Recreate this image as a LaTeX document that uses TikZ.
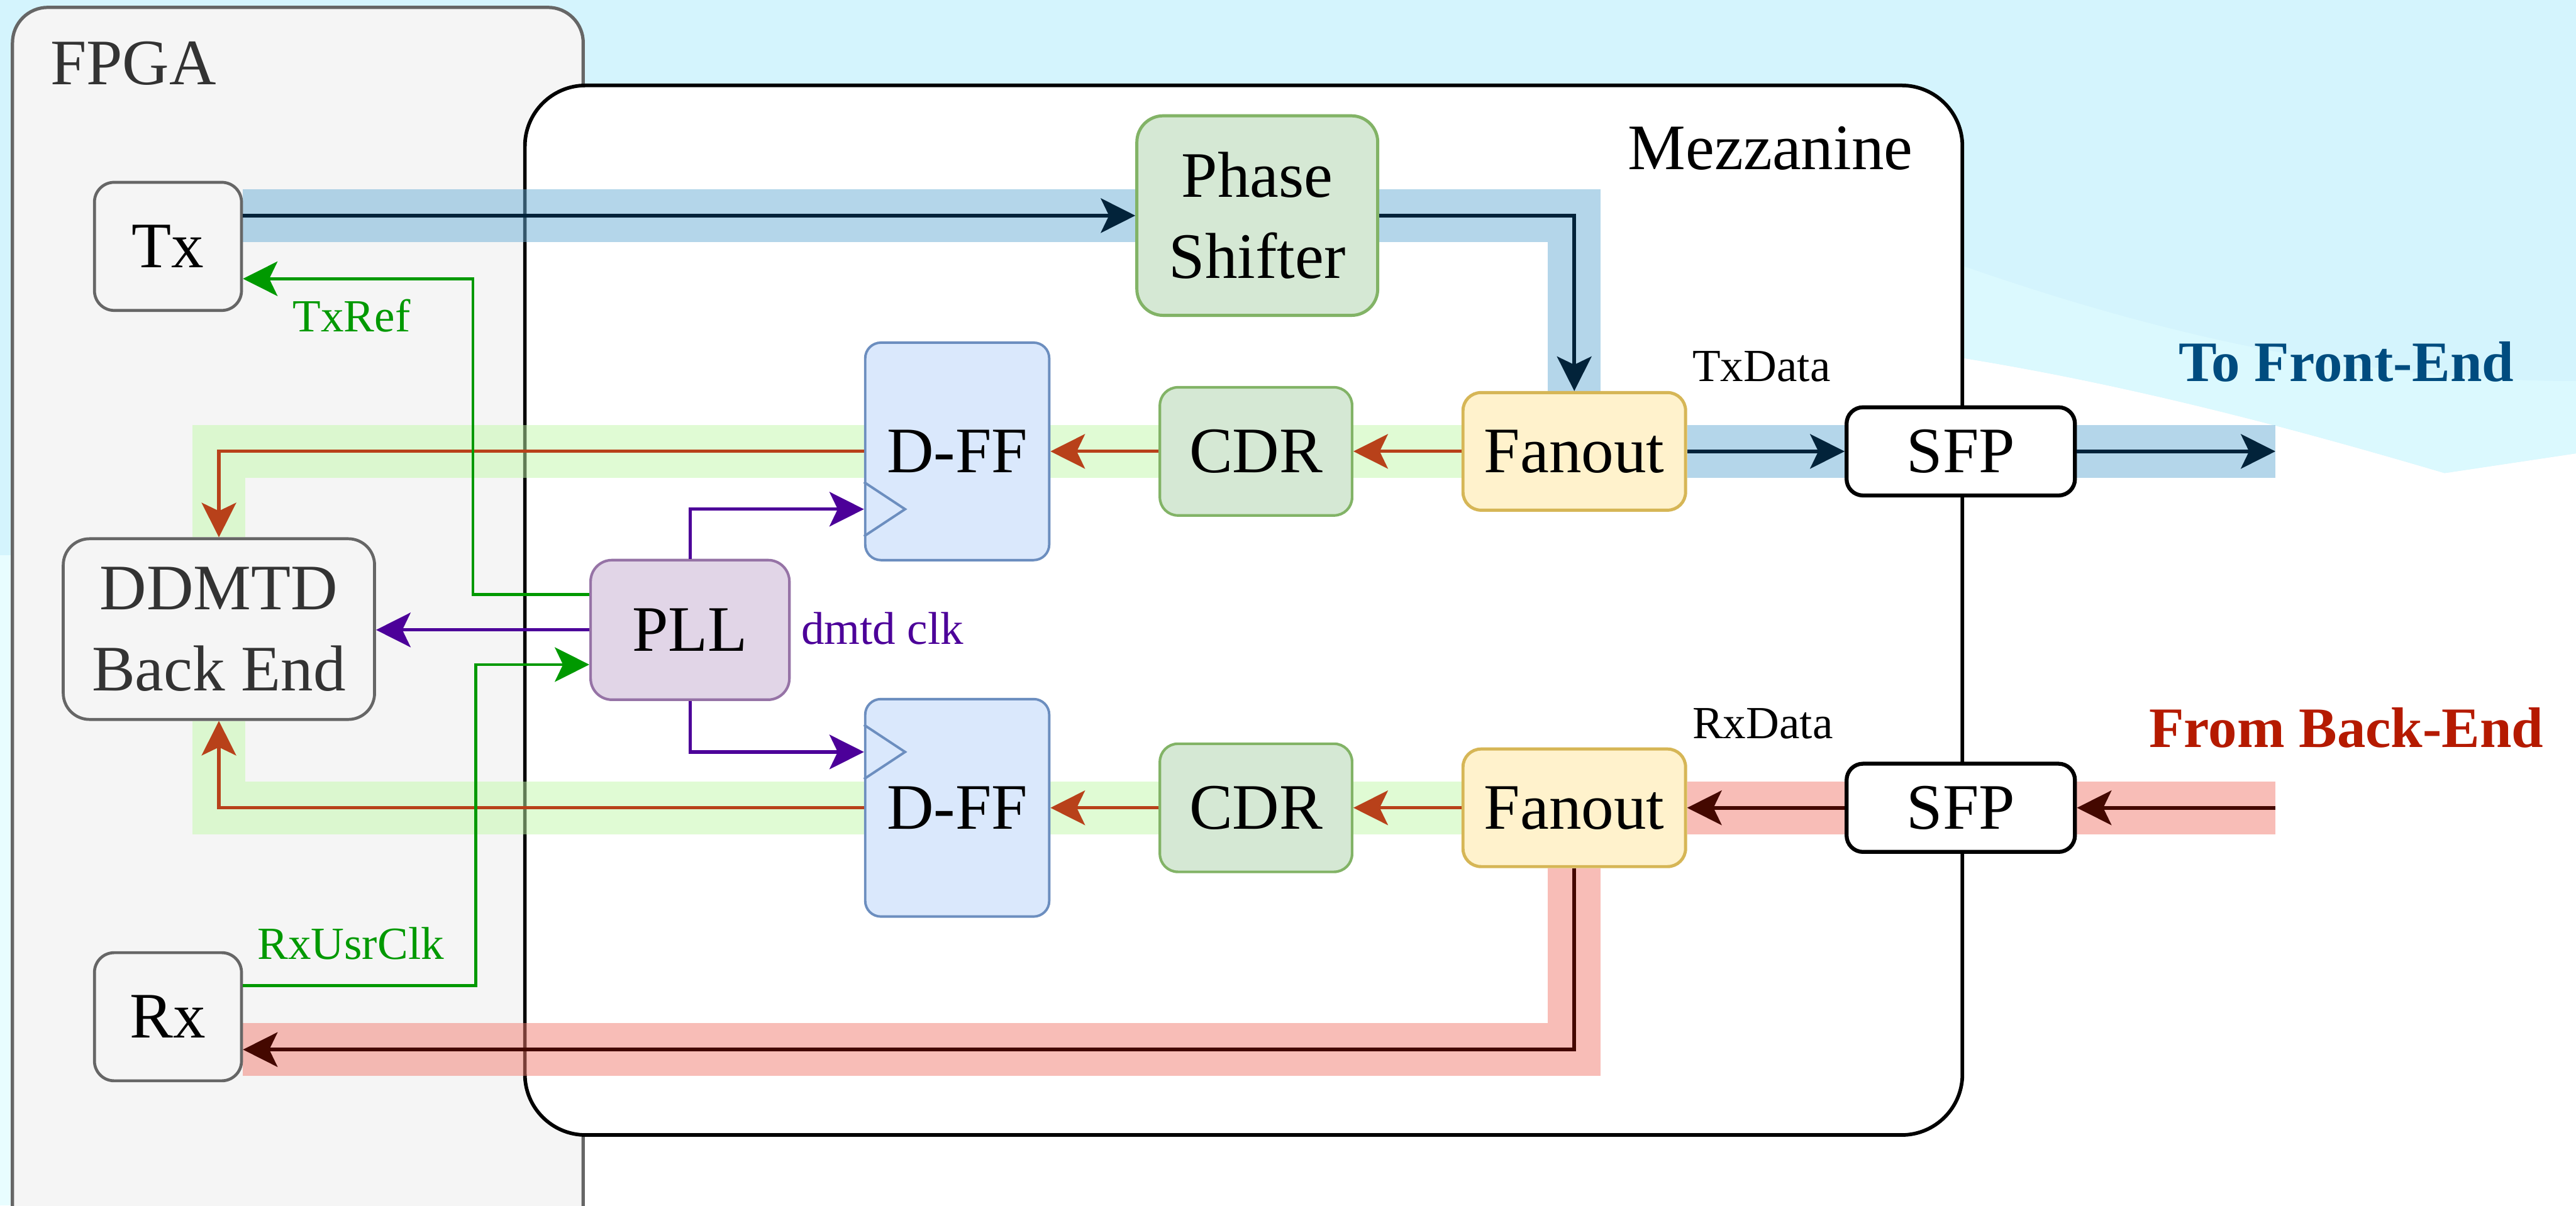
\documentclass[tikz,border=0pt]{standalone}
\usepackage{fontspec}
\setmainfont{Liberation Serif}
\usetikzlibrary{arrows.meta,calc}

\pgfdeclarelayer{backdrop}
\pgfdeclarelayer{bands}
\pgfsetlayers{backdrop,bands,main}

% type sizes (1 unit = 1pt)
\newcommand\mainsize{\fontsize{39.5}{49.5}\selectfont}
\newcommand\labelsize{\fontsize{28}{33}\selectfont}
\newcommand\headsize{\fontsize{34.8}{40}\selectfont\bfseries}

\definecolor{skycyan}{HTML}{D4F4FD}
\definecolor{skylight}{HTML}{DBF9FE}
\definecolor{skypale}{HTML}{E8FDFF}
\definecolor{fpgafill}{HTML}{F5F5F5}
\definecolor{fpgaline}{HTML}{666666}
\definecolor{darktext}{HTML}{333333}
\definecolor{dffill}{HTML}{DAE8FC}
\definecolor{dfline}{HTML}{6C8EBF}
\definecolor{grfill}{HTML}{D5E8D4}
\definecolor{grline}{HTML}{82B366}
\definecolor{yefill}{HTML}{FFF2CC}
\definecolor{yeline}{HTML}{D6B656}
\definecolor{pufill}{HTML}{E1D5E7}
\definecolor{puline}{HTML}{9673A6}
\definecolor{navyline}{HTML}{02233A}
\definecolor{rustline}{HTML}{B8411A}
\definecolor{clkgreen}{HTML}{009900}
\definecolor{clkpurple}{HTML}{4C0099}
\definecolor{maroonline}{HTML}{440800}
\definecolor{bandblue}{HTML}{6AAED6}
\definecolor{bandgreen}{HTML}{C2F9AA}
\definecolor{bandpink}{HTML}{F37D70}
\definecolor{feblue}{HTML}{004C7F}
\definecolor{bered}{HTML}{B51A00}

\begin{document}
\begin{tikzpicture}[x=1pt, y=-1pt,
  >={Stealth[length=21pt,width=21pt,inset=5pt]},
  blk/.style={draw, rounded corners=10pt, inner sep=0pt, align=center,
    font=\mainsize, line width=1.8pt},
  fpgablk/.style={blk, draw=fpgaline, fill=fpgafill},
  dffblk/.style={blk, draw=dfline, fill=dffill, line width=1.5pt,
    rounded corners=9.5pt, minimum width=112pt, minimum height=132.4pt},
  cdrblk/.style={blk, draw=grline, fill=grfill, line width=1.6pt,
    rounded corners=11pt, minimum width=117pt, minimum height=78pt},
  fanblk/.style={blk, draw=yeline, fill=yefill, line width=1.9pt,
    rounded corners=11pt, minimum width=135.5pt, minimum height=71.6pt},
  sfpblk/.style={blk, draw=black, fill=white, line width=2.4pt,
    rounded corners=10pt, minimum width=139pt, minimum height=53.7pt},
  band/.style={line width=32pt, draw opacity=0.5, line cap=butt, line join=miter},
  nline/.style={draw=navyline, line width=2.2pt, ->},
  oline/.style={draw=rustline, line width=2pt, ->},
  gline/.style={draw=clkgreen, line width=1.8pt},
  pline/.style={draw=clkpurple, line width=2pt, ->},
  rline/.style={draw=maroonline, line width=2.3pt, ->},
  lbl/.style={anchor=base west, inner sep=0pt, font=\labelsize}
]
\clip (0,0) rectangle (1568,734);

% ---------- sky and the two boards ----------
\begin{pgfonlayer}{backdrop}
  \fill[white] (0,0) rectangle (1568,734);
  \fill[skypale] (0,330) rectangle (20,734);
  \fill[skycyan] (0,0) -- (1568,0) -- (1568,276) -- (1488,288)
    .. controls (1400,262) and (1300,235) .. (1195,218)
    -- (20,218) -- (20,338) -- (0,338) -- cycle;
  \fill[skylight] (1195,162) .. controls (1290,195) and (1420,232) .. (1568,232)
    -- (1568,276) -- (1488,288)
    .. controls (1400,262) and (1300,235) .. (1195,218) -- cycle;
  \node[draw=fpgaline, fill=fpgafill, line width=2pt, rounded corners=21.5pt,
    minimum width=347.4pt, minimum height=760pt, inner sep=0pt]
    (fpga) at (181.3,384.5) {};
  \node[draw=black, fill=white, line width=2.2pt, rounded corners=37pt,
    minimum width=875pt, minimum height=639pt, inner sep=0pt]
    (mezz) at (757,371.5) {};
  \node[anchor=base west, inner sep=0pt, font=\mainsize, text=darktext]
    (fpganame) at (30.5,51.3) {FPGA};
  \node[anchor=base east, inner sep=0pt, font=\mainsize]
    (mezzname) at (1164.5,103) {Mezzanine};
\end{pgfonlayer}

% ---------- blocks ----------
\node[fpgablk, rounded corners=12pt, minimum width=89.5pt, minimum height=78pt]
  (tx) at (102.25,150) {Tx};
\node[fpgablk, rounded corners=12pt, minimum width=89.5pt, minimum height=78pt]
  (rx) at (102.25,619) {Rx};
\node[fpgablk, rounded corners=16pt, minimum width=189.5pt, minimum height=110pt,
  text=darktext] (ddmtd) at (133.25,383) {DDMTD\\Back End};
\node[blk, draw=puline, fill=pufill, line width=1.6pt, rounded corners=13pt,
  minimum width=121pt, minimum height=85pt] (pll) at (420,383.5) {PLL};
\node[blk, draw=grline, fill=grfill, line width=1.9pt, rounded corners=16pt,
  minimum width=146.6pt, minimum height=121.5pt] (ps) at (765.3,131.25) {Phase\\Shifter};

\node[dffblk] (dff1) at (582.65,274.8) {D-FF};
\node[cdrblk] (cdr1) at (764.5,274.8) {CDR};
\node[fanblk] (fan1) at (958.25,274.8) {Fanout};
\node[sfpblk] (sfp1) at (1193.5,274.8) {SFP};

\node[dffblk] (dff2) at (582.65,491.8) {D-FF};
\node[cdrblk] (cdr2) at (764.5,491.8) {CDR};
\node[fanblk] (fan2) at (958.25,491.8) {Fanout};
\node[sfpblk] (sfp2) at (1193.5,491.8) {SFP};

% clock inputs of the flip-flops
\coordinate (clk1) at ($(dff1.west)+(0,35.2)$);
\coordinate (clk2) at ($(dff2.west)+(0,-34)$);
\draw[dfline, line width=1.5pt] ($(clk1)+(0,-16.5)$) -- ($(clk1)+(25,0)$) -- ($(clk1)+(0,16.5)$);
\draw[dfline, line width=1.5pt] ($(clk2)+(0,-16.5)$) -- ($(clk2)+(25,0)$) -- ($(clk2)+(0,16.5)$);

% ---------- labels ----------
\node[lbl] (txdata) at (1030,232) {TxData};
\node[lbl] (rxdata) at (1030,449.6) {RxData};
\node[lbl, text=clkgreen] (txref) at (178,202) {TxRef};
\node[lbl, text=clkgreen] (rxusr) at (156.5,584) {RxUsrClk};
\node[lbl, text=clkpurple] (dmtdclk) at (487.5,392) {dmtd clk};
\node[anchor=base west, inner sep=0pt, font=\headsize, text=feblue]
  (tofront) at (1326,232) {To Front-End};
\node[anchor=base west, inner sep=0pt, font=\headsize, text=bered]
  (fromback) at (1308,454.8) {From Back-End};

% ---------- end points and taps ----------
\coordinate (feout) at (1385,274.8);
\coordinate (bein) at (1385,491.8);
\coordinate (rxin) at ($(rx.east)+(0,20)$);
\coordinate (rxc) at ($(rx.east)+(0,-19)$);
\coordinate (txr) at ($(tx.east)+(0,19.7)$);
\coordinate (pllref) at ($(pll.west)+(0,-21.5)$);
\coordinate (pllclk) at ($(pll.west)+(0,21.1)$);

% ---------- highlighted data paths ----------
\begin{pgfonlayer}{bands}
  \draw[band, draw=bandblue] (tx.east |- ps.west) -- (ps.east) -| (fan1.north);
  \draw[band, draw=bandblue] (fan1.east) -- (feout);
  \draw[band, draw=bandgreen] (fan1.west) -| (ddmtd.north);
  \draw[band, draw=bandgreen] (fan2.west) -| (ddmtd.south);
  \draw[band, draw=bandpink] (bein) -- (fan2.east);
  \draw[band, draw=bandpink] (fan2.south) |- (rxin);
\end{pgfonlayer}

% ---------- transmit path ----------
\draw[nline] (tx.east |- ps.west) -- (ps.west);
\draw[nline] (ps.east) -| (fan1.north);
\draw[nline] (fan1.east) -- (sfp1.west);
\draw[nline] (sfp1.east) -- (feout);

% ---------- receive path ----------
\draw[rline] (bein) -- (sfp2.east);
\draw[rline] (sfp2.west) -- (fan2.east);
\draw[rline] (fan2.south) |- (rxin);

% ---------- recovered clocks to the DDMTD ----------
\draw[oline] (fan1.west) -- (cdr1.east);
\draw[oline] (cdr1.west) -- (dff1.east);
\draw[oline] (dff1.west) -| (ddmtd.north);
\draw[oline] (fan2.west) -- (cdr2.east);
\draw[oline] (cdr2.west) -- (dff2.east);
\draw[oline] (dff2.west) -| (ddmtd.south);

% ---------- PLL clocks ----------
\draw[pline] (pll.north) |- (clk1);
\draw[pline] (pll.south) |- (clk2);
\draw[pline] (pll.west) -- (pll.west -| ddmtd.east);
\draw[gline, ->] (pllref) -- ++(-70.8,0) |- (txr);
\draw[gline, ->] (rxc) -- ++(141.6,0) |- (pllclk);
\end{tikzpicture}
\end{document}
